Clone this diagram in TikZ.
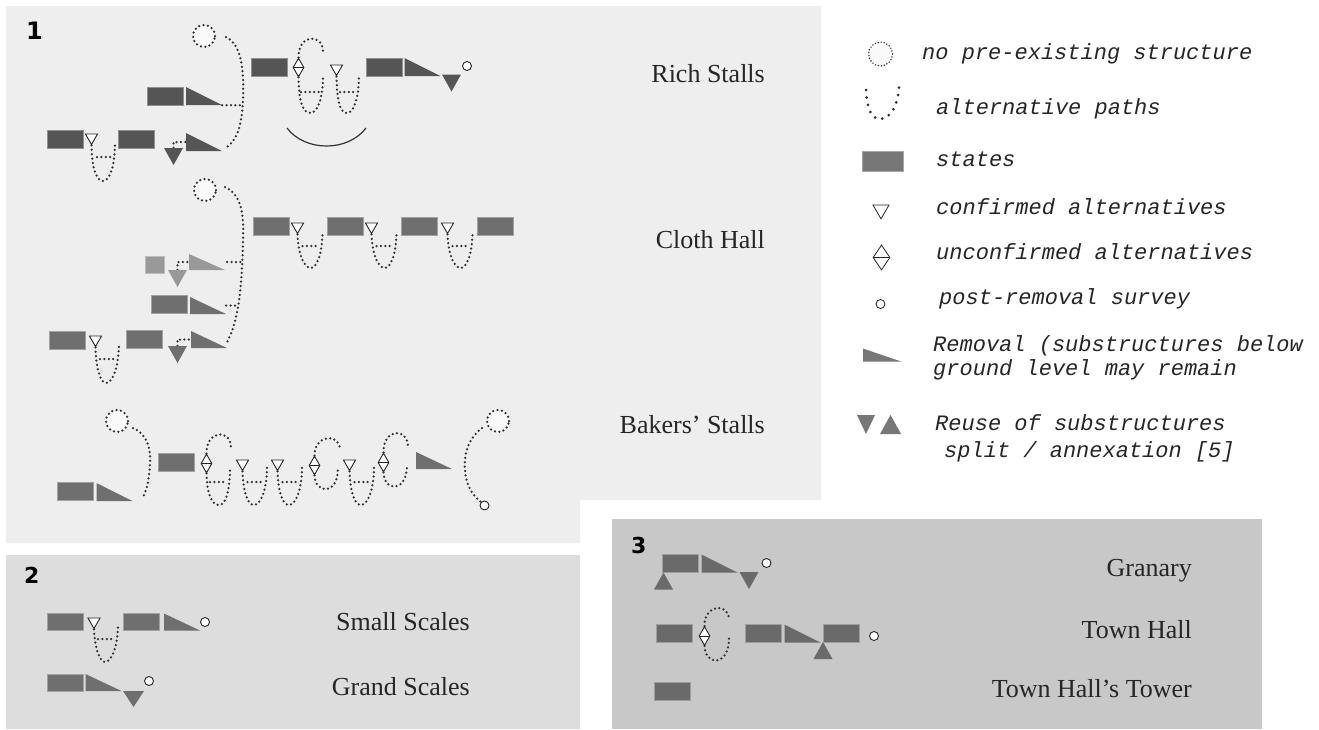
\documentclass[tikz,border=0pt]{standalone}
\usepackage{fontspec}
\setmainfont{Liberation Serif}
\newfontfamily\legfont{Liberation Mono}
\newfontfamily\numfont{DejaVu Sans}
\usetikzlibrary{shapes.geometric}
\pgfdeclarelayer{back}
\pgfdeclarelayer{links}
\pgfsetlayers{back,links,main}
\definecolor{pone}{HTML}{EEEEEE}
\definecolor{ptwo}{HTML}{DDDDDD}
\definecolor{pthree}{HTML}{C8C8C8}
\definecolor{dk}{HTML}{555555}
\definecolor{md}{HTML}{6F6F6F}
\definecolor{mdd}{HTML}{6A6A6A}
\definecolor{lt}{HTML}{999999}
\definecolor{lg}{HTML}{777777}
\definecolor{dotc}{HTML}{303030}
\tikzset{
  dots/.style={draw=dotc, line width=2.5pt, line cap=round, dash pattern=on 0pt off 4.4pt},
  dcirc/.style={circle, draw=dotc, line width=2.5pt, line cap=round, dash pattern=on 0pt off 4.4pt, fill=white!98!black, inner sep=0, minimum size=22pt},
  stbox/.style={rectangle, fill=#1, draw=#1!65!white, line width=0.7pt, inner sep=0, minimum width=36pt, minimum height=18pt},
  remtri/.style={rectangle, inner sep=0, minimum width=36pt, minimum height=18pt, path picture={\fill[#1] (path picture bounding box.north west) -- (path picture bounding box.south west) -- (path picture bounding box.south east) -- cycle;}},
  downtri/.style={rectangle, inner sep=0, minimum width=19pt, minimum height=17pt, path picture={\fill[#1] (path picture bounding box.north west) -- (path picture bounding box.north east) -- (path picture bounding box.south) -- cycle;}},
  uptri/.style={rectangle, inner sep=0, minimum width=19pt, minimum height=17pt, path picture={\fill[#1] (path picture bounding box.south west) -- (path picture bounding box.south east) -- (path picture bounding box.north) -- cycle;}},
  conf/.style={regular polygon, regular polygon sides=3, shape border rotate=180, draw=black!85, fill=white, line width=0.9pt, inner sep=0, minimum size=14pt},
  unconf/.style={diamond, draw=black!85, fill=white, line width=0.9pt, inner sep=0, minimum width=11pt, minimum height=19pt, path picture={\draw[black!85, line width=0.9pt] (path picture bounding box.west) -- (path picture bounding box.east);}},
  postc/.style={circle, draw=black!85, fill=white, line width=0.9pt, inner sep=0, minimum size=9pt},
  lbl/.style={inner sep=0, font=\fontsize{26}{29}\selectfont, text=black!85, anchor=base east},
  leg/.style={inner sep=0, font=\legfont\itshape\fontsize{22}{26}\selectfont, text=black!85, anchor=base west},
  num/.style={inner sep=0, font=\numfont\bfseries\fontsize{22}{26}\selectfont, anchor=base west},
}
\begin{document}
\begin{tikzpicture}[x=1pt,y=-1pt]
\useasboundingbox (0,0) rectangle (1319,729);
\begin{pgfonlayer}{back}
\fill[white] (0,0) rectangle (1319,729);
\fill[pone] (6,6) -- (821,6) -- (821,500) -- (580,500) -- (580,543) -- (6,543) -- cycle;
\fill[ptwo] (6,555) rectangle (580,729);
\fill[pthree] (612,519) rectangle (1262,729);
\end{pgfonlayer}

% panel numbers
\node[num, font=\numfont\bfseries\fontsize{24}{28}\selectfont] (n1) at (26,39) {1};
\node[num] (n2) at (24,583) {2};
\node[num] (n3) at (631,553) {3};

% ---------- Rich Stalls ----------
\node[dcirc] (rs0) at (204,36) {};
\node[stbox=dk] (rs1) at (165,96) {};
\node[remtri=dk] (rs1r) at (204,96) {};
\node[stbox=dk] (rs2) at (65,139.5) {};
\node[conf] (rs2c) at (91.5,137.5) {};
\node[stbox=dk] (rs3) at (136.5,139.5) {};
\node[downtri=dk] (rs3t) at (173.5,156.5) {};
\node[remtri=dk] (rs3r) at (204,142) {};
\node[stbox=dk] (rs4) at (269,67.5) {};
\node[unconf] (rs4u) at (298.5,67.5) {};
\node[conf] (rs4c) at (336.5,68.5) {};
\node[stbox=dk] (rs5) at (384,67) {};
\node[remtri=dk] (rs5r) at (422.5,67) {};
\node[downtri=dk] (rs5t) at (451.5,83) {};
\node[postc] (rs5p) at (467,66) {};
\coordinate (rsa) at (287,128);
\coordinate (rsb) at (366,128);
\node[lbl] (rsl) at (765,82) {Rich Stalls};

\begin{pgfonlayer}{links}
\draw[dots] (226,37) .. controls (242,45) and (244,70) .. (243,100) .. controls (242,125) and (237,140) .. (227,147);
\draw[dots] (rs1r.south east) -- ++(18,0);
\draw[dots] (rs2c.south) .. controls (92,170) and (97,181) .. (103,181) .. controls (110,181) and (115,165) .. (115,142);
\draw[dots] (97,157) -- (111,157);
\draw[dots] (rs3t.north) |- (rs3r.west);
\draw[dots] (rs4u.north) .. controls (298,33) and (324,33) .. (323,53);
\draw[dots] (rs4u.south) .. controls (299,108) and (305,113) .. (310.5,113) .. controls (317,113) and (323,100) .. (323,75);
\draw[dots] (301,92) -- (320,92);
\draw[dots] (rs4c.south) .. controls (337,105) and (341,113) .. (347,113) .. controls (353,113) and (359,100) .. (359,75);
\draw[dots] (340,92) -- (356,92);
\draw[line width=1.2pt, black!80] (rsa) .. controls (305,152) and (348,152) .. (rsb);
\end{pgfonlayer}

% ---------- Cloth Hall ----------
\node[dcirc] (ch0) at (205,190) {};
\node[stbox=md] (ch1) at (271,226.5) {};
\node[conf] (ch1c) at (297.5,226.5) {};
\node[stbox=md] (ch2) at (345,226.5) {};
\node[conf] (ch2c) at (371.5,226.5) {};
\node[stbox=md] (ch3) at (419.5,226.5) {};
\node[conf] (ch3c) at (447.5,226.5) {};
\node[stbox=md] (ch4) at (495,226.5) {};
\node[stbox=lt, minimum width=19pt, minimum height=17pt] (chl1) at (154.5,264.5) {};
\node[downtri=lt] (chl1t) at (177.5,278.5) {};
\node[remtri=lt, minimum height=16pt] (chl1r) at (207,262) {};
\node[stbox=md] (chm) at (169.5,304.5) {};
\node[remtri=md, minimum height=17pt] (chmr) at (208,305.5) {};
\node[stbox=md] (chb1) at (67.5,340.5) {};
\node[conf] (chb1c) at (95.5,339.5) {};
\node[stbox=md] (chb2) at (144,339.5) {};
\node[downtri=md] (chb2t) at (177.5,354.5) {};
\node[remtri=md, minimum height=17pt] (chb2r) at (209,339.5) {};
\node[lbl] (chl) at (765,248) {Cloth Hall};

\begin{pgfonlayer}{links}
\draw[dots] (225,187) .. controls (242,195) and (244,215) .. (243,240) .. controls (242,280) and (240,320) .. (226,344);
\foreach \n/\xc in {ch1c/297.5, ch2c/371.5, ch3c/447.5}{
  \draw[dots] (\n.south) .. controls (\xc+1,258) and (\xc+8,268) .. (\xc+13,268) .. controls (\xc+19,268) and (\xc+25,255) .. (\xc+25,231);
  \draw[dots] (\xc+5,246) -- (\xc+21,246);
}
\draw[dots] (chl1t.north) |- (chl1r.west);
\draw[dots] ([xshift=2pt]chl1r.east) -- ++(14,0);
\draw[dots] (chmr.east) -- ++(12,0);
\draw[dots] (chb1c.south) .. controls (96,370) and (101,383) .. (106,383) .. controls (113,383) and (119,365) .. (119,343);
\draw[dots] (100,359) -- (115,359);
\draw[dots] (chb2t.north) |- (chb2r.west);
\end{pgfonlayer}

% ---------- Bakers' Stalls ----------
\node[dcirc] (bs0) at (117,421) {};
\node[stbox=md] (bs1) at (75,491.5) {};
\node[remtri=md] (bs1r) at (114.5,492) {};
\node[stbox=md] (bs2) at (176.5,462.5) {};
\node[unconf] (bs2u) at (206.5,463.5) {};
\node[conf] (bs3c) at (242.5,463.5) {};
\node[conf] (bs4c) at (277.5,463.5) {};
\node[unconf] (bs5u) at (314.5,465.5) {};
\node[conf] (bs6c) at (349.5,463.5) {};
\node[unconf] (bs7u) at (383.5,462.5) {};
\node[remtri=md, minimum height=17pt] (bs7r) at (434,460.5) {};
\node[dcirc] (bs8) at (498,421) {};
\node[postc] (bs8p) at (484.5,505.5) {};
\node[lbl] (bsl) at (765,433) {Bakers’ Stalls};

\begin{pgfonlayer}{links}
\draw[dots] (133,428) .. controls (148,434) and (151,450) .. (150,465) .. controls (149,482) and (146,492) .. (142,499);
\draw[dots] (bs2u.north) .. controls (206,430) and (231,428) .. (231,448);
\draw[dots] (bs2u.south) .. controls (207,497) and (213,505) .. (219,505) .. controls (226,505) and (230,490) .. (230,467);
\draw[dots] (210,482) -- (226,482);
\foreach \n/\xc in {bs3c/242.5, bs4c/277.5, bs6c/349.5}{
  \draw[dots] (\n.south) .. controls (\xc+1,495) and (\xc+6,505) .. (\xc+11.5,505) .. controls (\xc+18,505) and (\xc+24.5,490) .. (\xc+24.5,467);
  \draw[dots] (\xc+5,482) -- (\xc+21,482);
}
\draw[dots] (bs5u.north) .. controls (314,435) and (340,432) .. (340,450);
\draw[dots] (bs5u.south) .. controls (315,494) and (338,496) .. (338,468);
\draw[dots] (bs7u.north) .. controls (383,428) and (408,427) .. (408,447);
\draw[dots] (bs7u.south) .. controls (384,492) and (407,493) .. (407,465);
\draw[dots] (482,428) .. controls (466,440) and (464,458) .. (465,470) .. controls (466,485) and (472,495) .. (bs8p.north west);
\end{pgfonlayer}

% ---------- Panel 2 ----------
\node[stbox=md, minimum height=17pt] (ss1) at (65,622) {};
\node[conf] (ss1c) at (94,621.5) {};
\node[stbox=md, minimum height=17pt] (ss2) at (141.5,622) {};
\node[remtri=md, minimum height=17pt] (ss2r) at (182,622) {};
\node[postc] (ss2p) at (205,622) {};
\node[stbox=md, minimum height=17pt] (gs1) at (65,682.5) {};
\node[remtri=md, minimum height=17pt] (gs1r) at (103.5,682.5) {};
\node[downtri=md, minimum width=21pt, minimum height=16pt] (gs1t) at (133.5,699) {};
\node[postc] (gs1p) at (149,681) {};
\node[lbl] (ssl) at (470,630) {Small Scales};
\node[lbl] (gsl) at (470,695) {Grand Scales};
\begin{pgfonlayer}{links}
\draw[dots] (ss1c.south) .. controls (95,650) and (100,662) .. (105,662) .. controls (112,662) and (118,645) .. (118,624);
\draw[dots] (98,639) -- (113,639);
\end{pgfonlayer}

% ---------- Panel 3 ----------
\node[stbox=mdd] (gr1) at (680.5,563) {};
\node[uptri=mdd] (gr1t) at (663.5,581) {};
\node[remtri=mdd] (gr1r) at (719.5,563.5) {};
\node[downtri=mdd] (gr1d) at (749,580.5) {};
\node[postc] (gr1p) at (766.5,563) {};
\node[stbox=mdd] (th1) at (674,633.5) {};
\node[unconf] (th1u) at (704.5,636) {};
\node[stbox=mdd] (th2) at (763.5,633.5) {};
\node[remtri=mdd] (th2r) at (802.5,633.5) {};
\node[stbox=mdd] (th3) at (841.5,633.5) {};
\node[uptri=mdd] (th3t) at (823,650.5) {};
\node[postc] (th3p) at (874,636) {};
\node[stbox=mdd] (tw1) at (672,691) {};
\node[lbl] (grl) at (1192,576) {Granary};
\node[lbl] (thl) at (1192,638) {Town Hall};
\node[lbl] (twl) at (1192,697) {Town Hall’s Tower};
\begin{pgfonlayer}{links}
\draw[dots] (th1u.north) .. controls (704,604) and (729,602) .. (729,620);
\draw[dots] (th1u.south) .. controls (705,666) and (729,667) .. (729,638);
\end{pgfonlayer}

% ---------- Legend ----------
\node[dcirc, minimum size=24pt, line width=1.6pt, dash pattern=on 0pt off 3pt] (L1) at (880.5,54) {};
\coordinate (L2a) at (866,90);
\coordinate (L2b) at (899,87);
\draw[dots, line width=3pt, dash pattern=on 0pt off 7.5pt] (L2a) .. controls (867,112) and (873,119) .. (880,119) .. controls (890,119) and (898,106) .. (L2b);
\node[stbox=lg, minimum width=41pt, minimum height=20pt] (L3) at (882.5,161) {};
\node[conf, minimum size=18.5pt, line width=0.8pt] (L4) at (881,209.6) {};
\node[unconf, minimum width=17pt, minimum height=25pt, line width=0.8pt] (L5) at (881.5,257.5) {};
\node[postc, line width=0.8pt] (L6) at (880.5,304) {};
\node[remtri=lg, minimum width=38pt, minimum height=13pt] (L7) at (882,355) {};
\node[downtri=lg, minimum width=18pt, minimum height=19pt] (L8a) at (866,424.5) {};
\node[uptri=lg, minimum width=21pt, minimum height=19pt] (L8b) at (890.5,424.5) {};

\node[leg] (T1) at (922,59) {no pre-existing structure};
\node[leg] (T2) at (936,114) {alternative paths};
\node[leg] (T3) at (936,166) {states};
\node[leg] (T4) at (936,214) {confirmed alternatives};
\node[leg] (T5) at (936,259) {unconfirmed alternatives};
\node[leg] (T6) at (939,304) {post-removal survey};
\node[leg] (T7) at (933,351) {Removal (substructures below};
\node[leg] (T8) at (933,375) {ground level may remain};
\node[leg] (T9) at (935,430) {Reuse of substructures};
\node[leg] (T10) at (944,457) {split / annexation [5]};
\end{tikzpicture}
\end{document}
